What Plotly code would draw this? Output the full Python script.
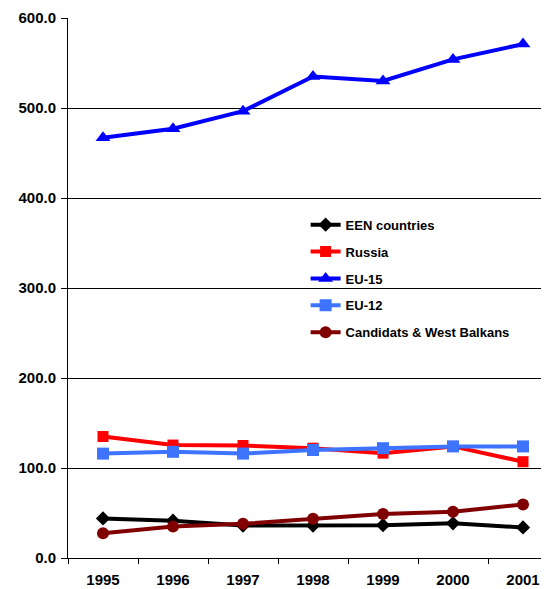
import plotly.graph_objects as go

years = ["1995", "1996", "1997", "1998", "1999", "2000", "2001"]
een = [44, 41.5, 36, 36, 36.5, 38.5, 34]
russia = [135, 125.5, 125, 122, 116.5, 124, 107]
eu15 = [467, 477, 496.5, 535, 530, 554, 571]
eu12 = [116, 118, 116, 120, 122, 124, 124]
candidates = [27.5, 35, 38, 43.5, 49, 51.5, 59.5]
yticks = [0, 100, 200, 300, 400, 500, 600]

series = [
    ("EEN countries", een, "#000000", "diamond", 11),
    ("Russia", russia, "#ff0000", "square", 11),
    ("EU-15", eu15, "#0000ff", "triangle-up", 13),
    ("EU-12", eu12, "#3d73ff", "square", 12),
    ("Candidats & West Balkans", candidates, "#800000", "circle", 12),
]

fig = go.Figure()
for i, (name, vals, col, sym, sz) in enumerate(series):
    fig.add_trace(go.Scatter(
        x=years, y=vals, name=name, mode="lines+markers",
        line=dict(color=col, width=4),
        marker=dict(color=col, symbol=sym, size=sz),
        legendgroup=f"g{i}",
    ))

font = "Liberation Sans, Arial, sans-serif"
fig.update_layout(
    width=541, height=581,
    margin=dict(l=60, r=1, t=10, b=23),
    paper_bgcolor="white", plot_bgcolor="white",
    font=dict(family=font, color="black"),
    showlegend=True,
    legend=dict(
        x=0.495, y=0.645, xanchor="left", yanchor="top",
        font=dict(family=font, size=13, color="black", weight="bold"),
        bgcolor="rgba(0,0,0,0)", tracegroupgap=7,
    ),
    xaxis=dict(
        type="category", range=[-0.5, 6.357],
        showline=True, linecolor="black", linewidth=1,
        ticks="outside", tickson="boundaries", ticklen=5, tickcolor="black",
        showgrid=False, zeroline=False, ticklabelstandoff=8,
        tickfont=dict(family=font, size=15, color="black", weight="bold"),
    ),
    yaxis=dict(
        range=[0, 600], tickvals=yticks, tickformat=".1f",
        showline=True, linecolor="black", linewidth=1,
        ticks="outside", ticklen=6, tickcolor="black",
        showgrid=True, gridcolor="black", gridwidth=1, zeroline=False,
        ticklabelstandoff=2,
        tickfont=dict(family=font, size=15, color="black", weight="bold"),
    ),
)

fig.write_html("out.html")
